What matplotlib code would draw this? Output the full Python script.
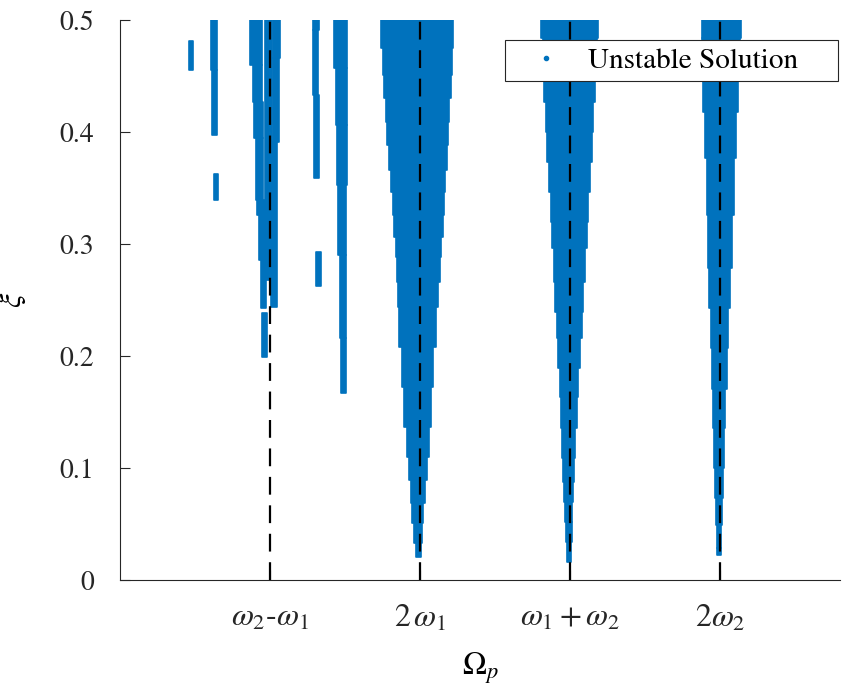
import matplotlib
matplotlib.use("Agg")
import matplotlib.pyplot as plt
from matplotlib.lines import Line2D
import numpy as np

plt.rcParams['font.family'] = 'STIXGeneral'
plt.rcParams['mathtext.fontset'] = 'stix'

blue = '#0072BD'

# resonance frequencies on the Omega_p axis (omega1 = 1, omega2 = 2)
res_pos = [1.0, 2.0, 3.0, 4.0]
res_labels = [r'$\omega_2$-$\omega_1$', r'$2\,\omega_1$',
              r'$\omega_1+\omega_2$', r'$2\omega_2$']

# tongue at 2*omega1: step edges in xi (bottom -> top), Omega bounds per step
t1_xi = [0.021, 0.033, 0.051, 0.069, 0.089, 0.110, 0.137, 0.172, 0.208, 0.244,
         0.266, 0.288, 0.306, 0.326, 0.346, 0.366, 0.388, 0.409, 0.430, 0.451,
         0.475, 0.500]
t1_left = [1.973, 1.962, 1.949, 1.938, 1.927, 1.911, 1.895, 1.878, 1.862, 1.851,
           1.845, 1.838, 1.827, 1.818, 1.805, 1.793, 1.780, 1.771, 1.760, 1.751,
           1.740]
t1_right = [2.005, 2.011, 2.022, 2.033, 2.045, 2.060, 2.071, 2.089, 2.107, 2.120,
            2.131, 2.140, 2.151, 2.160, 2.167, 2.178, 2.187, 2.193, 2.205, 2.211,
            2.220]

# tongue at omega1 + omega2
t2_xi = [0.016, 0.034, 0.052, 0.070, 0.0875, 0.109, 0.136, 0.163, 0.189, 0.216,
         0.239, 0.266, 0.296, 0.320, 0.346, 0.373, 0.400, 0.427, 0.449, 0.484,
         0.500]
t2_left = [2.978, 2.972, 2.969, 2.962, 2.955, 2.949, 2.940, 2.933, 2.922, 2.911,
           2.902, 2.893, 2.882, 2.871, 2.860, 2.849, 2.838, 2.827, 2.817, 2.807]
t2_right = [3.008, 3.012, 3.016, 3.020, 3.026, 3.033, 3.045, 3.055, 3.067, 3.078,
            3.089, 3.100, 3.111, 3.122, 3.133, 3.145, 3.155, 3.167, 3.178, 3.189]

# tongue at 2*omega2
t3_xi = [0.022, 0.029, 0.049, 0.073, 0.100, 0.136, 0.171, 0.207, 0.243, 0.279,
         0.326, 0.377, 0.418, 0.449, 0.484, 0.500]
t3_left = [3.980, 3.978, 3.973, 3.969, 3.962, 3.955, 3.947, 3.938, 3.929, 3.922,
           3.911, 3.900, 3.889, 3.883, 3.878]
t3_right = [4.006, 4.009, 4.013, 4.020, 4.027, 4.035, 4.045, 4.055, 4.067, 4.080,
            4.093, 4.107, 4.122, 4.131, 4.140]

# small unstable patches near omega2 - omega1
s_left = [0.460, 0.607, 0.613, 0.627, 0.867, 0.887, 0.893, 0.907, 0.913, 0.927,
          0.940, 0.947, 0.967, 1.018, 1.018, 1.007, 1.285, 1.289, 1.293, 1.307,
          1.427, 1.438, 1.445, 1.455, 1.467, 1.471]
s_right = [0.487, 0.647, 0.647, 0.653, 0.947, 0.947, 0.953, 0.953, 0.967, 0.973,
           0.973, 0.982, 1.013, 1.067, 1.060, 1.049, 1.329, 1.322, 1.329, 1.338,
           1.515, 1.511, 1.511, 1.507, 1.507, 1.507]
s_low = [0.455, 0.455, 0.397, 0.339, 0.460, 0.427, 0.395, 0.339, 0.326, 0.286,
         0.243, 0.199, 0.268, 0.466, 0.391, 0.244, 0.491, 0.433, 0.359, 0.2625,
         0.457, 0.406, 0.353, 0.290, 0.216, 0.167]
s_high = [0.481, 0.500, 0.455, 0.3625, 0.500, 0.460, 0.427, 0.395, 0.339, 0.326,
          0.286, 0.238, 0.500, 0.500, 0.466, 0.391, 0.500, 0.491, 0.433, 0.293,
          0.500, 0.457, 0.406, 0.353, 0.290, 0.216]

fig = plt.figure(figsize=(8.61, 6.92), dpi=100)
ax = fig.add_axes([0.1394, 0.1618, 0.8362, 0.8093])

for xi, lo, hi in [(t1_xi, t1_left, t1_right), (t2_xi, t2_left, t2_right),
                   (t3_xi, t3_left, t3_right)]:
    xi = np.array(xi)
    lo = np.array(lo)
    hi = np.array(hi)
    ax.bar(lo, np.diff(xi), width=hi - lo, bottom=xi[:-1], align='edge',
           color=blue, edgecolor=blue, linewidth=1.2, joinstyle='round', zorder=2)

s_left = np.array(s_left)
s_right = np.array(s_right)
s_low = np.array(s_low)
s_high = np.array(s_high)
ax.bar(s_left, s_high - s_low, width=s_right - s_left, bottom=s_low, align='edge',
       color=blue, edgecolor=blue, linewidth=1.2, joinstyle='round', zorder=2)

for x in res_pos:
    ax.plot([x, x], [0, 0.5], color='black', linestyle='--', linewidth=1.6,
            dashes=(8, 4.8), zorder=3)

ax.set_xlim(0, 4.8)
ax.set_ylim(0, 0.5)
ax.set_xticks(res_pos)
ax.set_xticklabels(res_labels, fontsize=23)
ax.set_yticks([0, 0.1, 0.2, 0.3, 0.4, 0.5])
ax.set_yticklabels(['0', '0.1', '0.2', '0.3', '0.4', '0.5'], fontsize=20)
ax.tick_params(direction='in', length=7, width=0.8, color='#262626',
               labelcolor='#262626')
ax.tick_params(axis='x', pad=17)
ax.tick_params(axis='y', pad=19)

for side in ['top', 'right']:
    ax.spines[side].set_visible(False)
for side in ['left', 'bottom']:
    ax.spines[side].set_color('#262626')
    ax.spines[side].set_linewidth(0.8)

ax.set_xlabel(r'$\Omega_p$', fontsize=23, labelpad=12)
ax.set_ylabel(r'$\xi$', fontsize=23, labelpad=22)

proxy = Line2D([], [], marker='.', linestyle='none', color=blue, markersize=6)
leg = ax.legend([proxy], ['Unstable Solution'], loc='upper left',
                bbox_to_anchor=(0.535, 0.0, 0.4625, 0.964), mode='expand',
                borderaxespad=0, fontsize=21, fancybox=False, framealpha=1,
                edgecolor='#262626', borderpad=0.25, handlelength=2.3,
                handletextpad=0.3)
leg.get_frame().set_linewidth(0.8)

fig.savefig('out.png', dpi=100)
